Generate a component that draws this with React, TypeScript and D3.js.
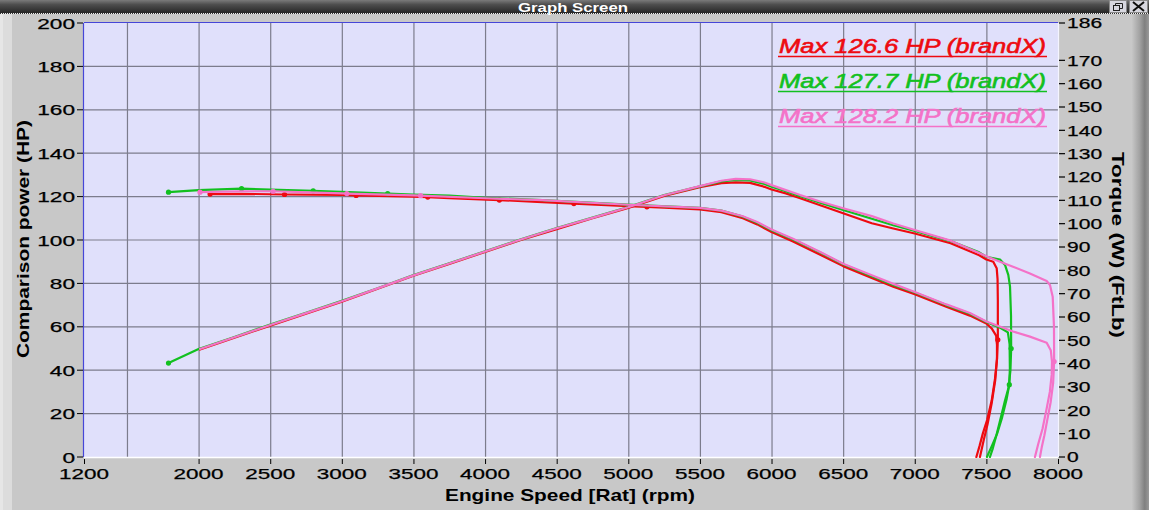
import React from 'react';
import * as d3 from 'd3';

type Pt = [number, number, number?];

// ---------- data ----------
const xTickLabels = [1200, 2000, 2500, 3000, 3500, 4000, 4500, 5000, 5500, 6000, 6500, 7000, 7500, 8000];
const xGridValues = [1500, 2000, 2500, 3000, 3500, 4000, 4500, 5000, 5500, 6000, 6500, 7000, 7500];
const hpTicks = [0, 20, 40, 60, 80, 100, 120, 140, 160, 180, 200];
const torqueTicks = [0, 10, 20, 30, 40, 50, 60, 70, 80, 90, 100, 110, 120, 130, 140, 150, 160, 170, 186];
const legendLabels = ['Max 126.6 HP (brandX)', 'Max 127.7 HP (brandX)', 'Max 128.2 HP (brandX)'];
const seriesColors = ['#ee0a10', '#12c020', '#f472c8'];

// power in HP (left axis), torque in FtLb (right axis); third value 1 = marker dot
const redPower: Pt[] = [
  [2010, 49.5], [2250, 55], [2500, 60.5], [2750, 66], [3000, 71.6], [3250, 77.5], [3500, 83.5],
  [3750, 89], [4000, 94.5], [4250, 100], [4500, 105], [4750, 110], [5000, 114.8], [5250, 120.3],
  [5500, 124.3], [5650, 126.2], [5750, 126.6], [5850, 126.3], [5950, 124.5], [6000, 123.3],
  [6100, 121.5], [6200, 119.2], [6350, 115.8], [6500, 112.3], [6700, 107.7], [6850, 105.3],
  [7000, 103], [7250, 98.5], [7450, 93], [7500, 91], [7548, 90], [7572, 87], [7578, 82],
  [7580, 72], [7580, 54, 1], [7574, 45], [7560, 36], [7537, 26], [7505, 17], [7476, 11],
  [7452, 5], [7430, 0],
];
const redTorque: Pt[] = [
  [2080, 112.7, 1], [2300, 112.8], [2600, 112.5, 1], [3000, 112.3], [3100, 112.1, 1], [3500, 111.6],
  [3600, 111.4, 1], [3750, 110.9], [4100, 110.1, 1], [4400, 109.2], [4620, 108.6, 1], [5000, 107.5],
  [5130, 107.2, 1], [5250, 106.9], [5500, 106.1], [5650, 104.9], [5800, 102.3], [5900, 99.7],
  [6000, 96.4], [6150, 92.4], [6340, 86.7], [6500, 81.8], [6700, 76.7], [6850, 73.0], [7000, 69.8],
  [7220, 64.4], [7385, 60.6], [7500, 57.2], [7537, 55.1], [7568, 52], [7574, 48], [7574, 42],
  [7562, 33], [7537, 23], [7508, 14], [7482, 7.4], [7455, 0],
];
const greenPower: Pt[] = [
  [1790, 43.3, 1], [2000, 49.8], [2250, 55.3], [2500, 61], [2750, 66.5], [3000, 72], [3250, 77.8],
  [3500, 83.8], [3750, 89.3], [4000, 94.8], [4250, 100.3], [4500, 105.5], [4750, 110.3], [5000, 115.2],
  [5250, 120.7], [5500, 124.7], [5650, 127], [5750, 127.7], [5850, 127.5], [5950, 125.8], [6000, 124.6],
  [6100, 122.5], [6200, 120.2], [6350, 117], [6500, 113.8], [6700, 109.8], [6850, 106.8], [7000, 104.2],
  [7250, 99.5], [7450, 94.3], [7500, 92.3], [7595, 91], [7630, 88.5], [7653, 83.9], [7665, 78.5],
  [7672, 65], [7673, 50, 1], [7668, 40], [7655, 32], [7630, 26], [7600, 18], [7570, 10], [7545, 4],
  [7525, 0],
];
const greenTorque: Pt[] = [
  [1790, 113.5, 1], [2000, 114.4], [2300, 115, 1], [2500, 114.6], [2800, 114.1, 1], [3000, 113.6],
  [3320, 112.9, 1], [3500, 112.5], [3750, 112], [4000, 111.1], [4400, 110.1], [5000, 108.2],
  [5500, 106.8], [5650, 105.6], [5800, 103], [5900, 100.4], [6000, 97.2], [6150, 93.2], [6340, 87.6],
  [6500, 82.6], [6700, 77.5], [6850, 73.7], [7000, 70.5], [7220, 65.1], [7385, 61.4], [7500, 57.9],
  [7600, 55.3], [7650, 53.4], [7662, 48.4], [7664, 38], [7660, 31, 1], [7642, 25], [7610, 17],
  [7575, 10], [7540, 5], [7504, 0],
];
const pinkPower: Pt[] = [
  [2010, 49.8], [2250, 55.2], [2500, 60.8], [2750, 66.3], [3000, 71.8], [3250, 77.7], [3500, 83.7],
  [3750, 89.2], [4000, 94.7], [4250, 100.2], [4500, 105.4], [4750, 110.2], [5000, 115.1], [5250, 120.6],
  [5500, 124.8], [5650, 127.3], [5750, 128.2], [5850, 128], [5950, 126.5], [6000, 125.3], [6100, 123],
  [6200, 120.7], [6350, 117.5], [6500, 114.6], [6700, 111], [6850, 107.6], [7000, 104.6], [7250, 99.7],
  [7450, 94], [7500, 92.5], [7595, 90], [7686, 87.7], [7804, 84.6], [7921, 81.1], [7944, 79.3],
  [7963, 73.9], [7972, 60], [7973, 44, 1], [7966, 34], [7948, 25], [7925, 17], [7905, 10], [7888, 5],
  [7874, 0],
];
const pinkTorque: Pt[] = [
  [2010, 113.5, 1], [2300, 113.9], [2520, 113.9, 1], [3000, 113], [3035, 112.9, 1], [3500, 112.1],
  [3550, 112, 1], [4000, 110.9], [4400, 110.1], [5000, 108.1], [5500, 106.8], [5650, 105.6],
  [5800, 103.2], [5900, 100.7], [6000, 97.5], [6150, 93.5], [6340, 87.9], [6500, 82.8], [6700, 77.9],
  [6850, 74.2], [7000, 70.7], [7220, 65.4], [7385, 61.7], [7500, 58.1], [7686, 53.8], [7804, 51.6],
  [7921, 49], [7950, 45.6], [7958, 40.9], [7956, 35.3], [7943, 27.9], [7920, 20.5], [7892, 12.1],
  [7862, 5.6], [7839, 0],
];

const powerSeries = [redPower, greenPower, pinkPower];
const torqueSeries = [redTorque, greenTorque, pinkTorque];

// ---------- layout ----------
const W = 1149;
const H = 510;
const PL = 84;
const PR = 1058;
const PT = 23;
const PB = 457;
const FONT = "'Liberation Sans', Arial, Helvetica, sans-serif";

export default function App() {
  const x = d3.scaleLinear().domain([1200, 8000]).range([PL, PR]);
  const yHP = d3.scaleLinear().domain([0, 200]).range([PB, PT]);
  const yTQ = d3.scaleLinear().domain([0, 186]).range([PB, PT]);

  const lineTQ = d3.line<Pt>().x((d) => x(d[0])).y((d) => yTQ(d[1]));
  const lineHP = d3.line<Pt>().x((d) => x(d[0])).y((d) => yHP(d[1]));

  return (
    <svg
      width={W}
      height={H}
      viewBox={`0 0 ${W} ${H}`}
      style={{ position: 'absolute', left: 0, top: 0, display: 'block' }}
      fontFamily={FONT}
    >
      <defs>
        <linearGradient id="titleGrad" x1="0" y1="0" x2="0" y2="1">
          <stop offset="0%" stopColor="#7a7a7a" />
          <stop offset="35%" stopColor="#4e4e4e" />
          <stop offset="100%" stopColor="#262626" />
        </linearGradient>
        <linearGradient id="rightEdge" x1="0" y1="0" x2="1" y2="0">
          <stop offset="0%" stopColor="#c6c6c6" />
          <stop offset="45%" stopColor="#a2a2a2" />
          <stop offset="75%" stopColor="#808080" />
          <stop offset="100%" stopColor="#9a9a9a" />
        </linearGradient>
        <clipPath id="plotClip">
          <rect x={PL} y={PT} width={PR - PL} height={PB - PT + 1} />
        </clipPath>
      </defs>

      {/* window background */}
      <rect x={0} y={0} width={W} height={H} fill="#c8c8c8" />
      <rect x={0} y={14} width={12} height={H - 14} fill="#dcdcdc" />
      <rect x={0} y={14} width={3} height={H - 14} fill="#e6e6e6" />
      <rect x={1132} y={14} width={17} height={H - 14} fill="url(#rightEdge)" />

      {/* title bar */}
      <rect x={0} y={0} width={W} height={13} fill="url(#titleGrad)" />
      <line x1={0} x2={W} y1={13.5} y2={13.5} stroke="#f0f0f0" strokeWidth={1} />
      <line x1={0} x2={W} y1={13.5} y2={13.5} stroke="#303030" strokeWidth={1} strokeDasharray="1,1" />
      <text
        x={573}
        y={11.5}
        textAnchor="middle"
        fill="#ffffff"
        fontSize={13}
        fontWeight="bold"
        textLength={110}
        lengthAdjust="spacingAndGlyphs"
      >
        Graph Screen
      </text>
      <rect x={1109.5} y={0.5} width={17} height={12} fill="#d8d8e0" stroke="#8a8a8a" />
      <rect x={1113.5} y={5.5} width={6} height={5} fill="none" stroke="#202020" />
      <path d="M1115.5 5.5 V3.5 H1122.5 V8.5 H1119.5" fill="none" stroke="#202020" />
      <rect x={1129.5} y={0.5} width={18} height={12} fill="#d8d8e0" stroke="#8a8a8a" />
      <path d="M1133 2 L1144 11 M1144 2 L1133 11" stroke="#101010" strokeWidth={2} />

      {/* plot area */}
      <rect x={PL} y={PT} width={PR - PL} height={PB - PT} fill="#e0e0fb" />

      {/* grid */}
      {xGridValues.map((v) => (
        <line key={'gx' + v} x1={x(v) + 0.5} x2={x(v) + 0.5} y1={PT} y2={PB} stroke="#7c7c8c" strokeWidth={1.2} />
      ))}
      {hpTicks.filter((v) => v > 0 && v < 200).map((v) => (
        <line key={'gy' + v} x1={PL} x2={PR} y1={yHP(v)} y2={yHP(v)} stroke="#7c7c8c" strokeWidth={1.2} />
      ))}

      {/* borders */}
      <line x1={PL - 0.5} x2={PL - 0.5} y1={PT} y2={PB} stroke="#4646d8" strokeWidth={1.2} />
      <line x1={PL} x2={PR} y1={PT - 0.5} y2={PT - 0.5} stroke="#4646d8" strokeWidth={1.2} />
      <line x1={PL} x2={PR} y1={PB + 0.5} y2={PB + 0.5} stroke="#ffffff" strokeWidth={1.5} />
      <line x1={PR + 0.5} x2={PR + 0.5} y1={PT} y2={PB} stroke="#f4f4ff" strokeWidth={1.2} />

      {/* curves */}
      <g clipPath="url(#plotClip)" fill="none" strokeLinejoin="round" strokeLinecap="round">
        {powerSeries.map((s, i) => (
          <g key={'s' + i}>
            <path d={lineHP(s) || ''} stroke={seriesColors[i]} strokeWidth={2.2} fill="none" />
            <path d={lineTQ(torqueSeries[i]) || ''} stroke={seriesColors[i]} strokeWidth={2.2} fill="none" />
            {s.filter((d) => d[2]).map((d, j) => (
              <circle key={'pd' + j} cx={x(d[0])} cy={yHP(d[1])} r={2.6} fill={seriesColors[i]} />
            ))}
            {torqueSeries[i].filter((d) => d[2]).map((d, j) => (
              <circle key={'td' + j} cx={x(d[0])} cy={yTQ(d[1])} r={2.6} fill={seriesColors[i]} />
            ))}
          </g>
        ))}
      </g>

      {/* legend */}
      {legendLabels.map((t, i) => (
        <g key={'lg' + i}>
          <text
            x={779}
            y={53 + i * 35}
            fill={seriesColors[i]}
            stroke={seriesColors[i]}
            strokeWidth={0.6}
            fontSize={21}
            fontStyle="italic"
            textLength={267}
            lengthAdjust="spacingAndGlyphs"
          >
            {t}
          </text>
          <line x1={778} x2={1047} y1={56.5 + i * 35} y2={56.5 + i * 35} stroke={seriesColors[i]} strokeWidth={1.3} />
        </g>
      ))}

      {/* left axis */}
      {hpTicks.map((v) => (
        <g key={'ly' + v}>
          <line x1={77} x2={83} y1={yHP(v)} y2={yHP(v)} stroke="#000" strokeWidth={1} />
          <text
            x={75}
            y={yHP(v) + 5.5}
            textAnchor="end"
            fontSize={15}
            fill="#000"
            stroke="#000"
            strokeWidth={0.25}
            textLength={String(v).length * 12.6}
            lengthAdjust="spacingAndGlyphs"
          >
            {v}
          </text>
        </g>
      ))}
      <text
        transform="translate(29,239) rotate(-90)"
        textAnchor="middle"
        fontSize={17}
        fontWeight="bold"
        fill="#000"
        textLength={238}
        lengthAdjust="spacingAndGlyphs"
      >
        Comparison power (HP)
      </text>

      {/* right axis */}
      {torqueTicks.map((v) => (
        <g key={'ry' + v}>
          <line x1={1059} x2={1065} y1={yTQ(v)} y2={yTQ(v)} stroke="#000" strokeWidth={1.2} />
          <text
            x={1067}
            y={yTQ(v) + 5.3}
            textAnchor="start"
            fontSize={14.5}
            fill="#000"
            stroke="#000"
            strokeWidth={0.25}
            textLength={String(v).length * 11.7}
            lengthAdjust="spacingAndGlyphs"
          >
            {v}
          </text>
        </g>
      ))}
      <text
        transform="translate(1112,245) rotate(90)"
        textAnchor="middle"
        fontSize={16}
        fontWeight="bold"
        fill="#000"
        textLength={186}
        lengthAdjust="spacingAndGlyphs"
      >
        Torque (W) (FtLb)
      </text>

      {/* bottom axis */}
      {xTickLabels.map((v) => (
        <g key={'bx' + v}>
          <line x1={x(v) + 0.5} x2={x(v) + 0.5} y1={PB + 2} y2={PB + 7} stroke="#000" strokeWidth={1} />
          <text
            x={x(v)}
            y={479}
            textAnchor="middle"
            fontSize={15}
            fill="#000"
            stroke="#000"
            strokeWidth={0.25}
            textLength={String(v).length * 12.5}
            lengthAdjust="spacingAndGlyphs"
          >
            {v}
          </text>
        </g>
      ))}
      <text
        x={570}
        y={500.5}
        textAnchor="middle"
        fontSize={17}
        fontWeight="bold"
        fill="#000"
        textLength={250}
        lengthAdjust="spacingAndGlyphs"
      >
        Engine Speed [Rat] (rpm)
      </text>
    </svg>
  );
}
